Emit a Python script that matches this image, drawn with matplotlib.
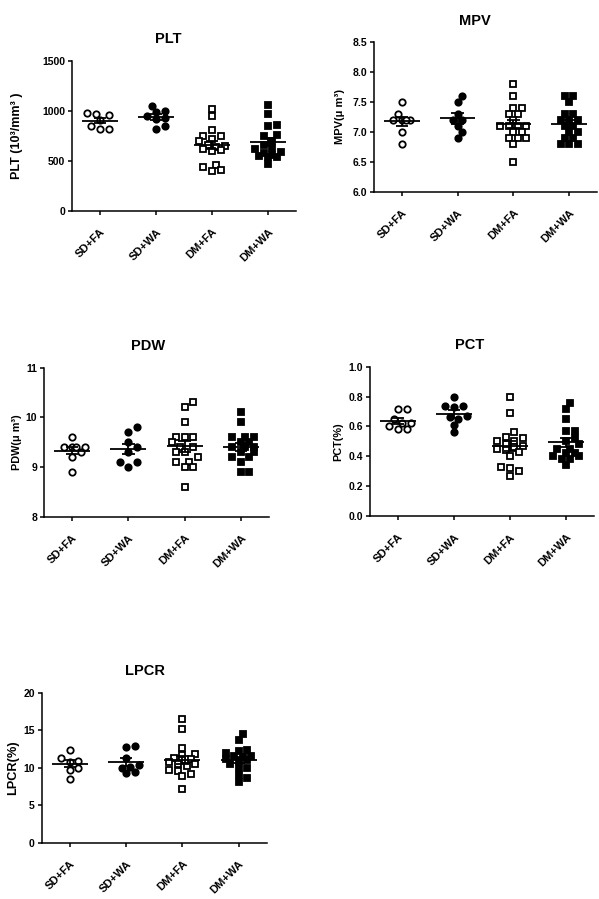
import numpy as np
import matplotlib
matplotlib.use('Agg')
import matplotlib.pyplot as plt

plt.rcParams['font.family'] = ['Liberation Sans', 'DejaVu Sans']
plt.rcParams['font.weight'] = 'bold'

groups = ['SD+FA', 'SD+WA', 'DM+FA', 'DM+WA']

# ---- data ----
plt_sdfa = [965, 955, 975, 905, 850, 820, 820]
plt_sdwa = [1050, 1000, 990, 950, 930, 920, 850, 815]
plt_dmfa = [1015, 945, 810, 750, 745, 720, 700, 660, 650, 640, 620, 610, 600, 440, 455, 400, 405]
plt_dmwa = [1055, 965, 855, 850, 760, 745, 700, 660, 630, 620, 590, 580, 560, 545, 540, 540, 470]

mpv_sdfa = [7.5, 7.3, 7.2, 7.2, 7.2, 7.2, 7.0, 6.8]
mpv_sdwa = [7.6, 7.5, 7.3, 7.2, 7.2, 7.1, 7.0, 6.9]
mpv_dmfa = [7.8, 7.6, 7.4, 7.4, 7.3, 7.3, 7.2, 7.1, 7.1, 7.1, 7.1, 7.0, 7.0, 6.9, 6.9, 6.9, 6.8, 6.5]
mpv_dmwa = [7.6, 7.6, 7.5, 7.3, 7.3, 7.2, 7.2, 7.2, 7.1, 7.1, 7.0, 7.0, 6.9, 6.9, 6.8, 6.8, 6.8]

pdw_sdfa = [9.6, 9.4, 9.4, 9.4, 9.4, 9.3, 9.2, 8.9]
pdw_sdwa = [9.8, 9.7, 9.5, 9.4, 9.3, 9.1, 9.1, 9.0]
pdw_dmfa = [10.3, 10.2, 9.9, 9.6, 9.6, 9.6, 9.5, 9.4, 9.4, 9.3, 9.3, 9.2, 9.1, 9.1, 9.0, 9.0, 8.6]
pdw_dmwa = [10.1, 9.9, 9.6, 9.6, 9.6, 9.5, 9.5, 9.4, 9.4, 9.4, 9.3, 9.3, 9.2, 9.2, 9.1, 8.9, 8.9]

pct_sdfa = [0.72, 0.72, 0.65, 0.62, 0.62, 0.60, 0.58, 0.58]
pct_sdwa = [0.80, 0.74, 0.74, 0.73, 0.67, 0.66, 0.65, 0.61, 0.56]
pct_dmfa = [0.80, 0.69, 0.56, 0.53, 0.52, 0.50, 0.50, 0.48, 0.47, 0.46, 0.45, 0.44, 0.43, 0.40, 0.33, 0.32, 0.30, 0.27]
pct_dmwa = [0.76, 0.72, 0.65, 0.57, 0.57, 0.52, 0.50, 0.48, 0.45, 0.45, 0.42, 0.42, 0.40, 0.40, 0.38, 0.38, 0.34]

lpcr_sdfa = [12.4, 11.3, 10.9, 10.8, 10.0, 9.7, 8.5]
lpcr_sdwa = [12.8, 12.9, 11.3, 10.3, 10.1, 10.0, 9.4, 9.3]
lpcr_dmfa = [16.5, 15.2, 12.6, 11.8, 11.7, 11.3, 11.2, 11.0, 10.8, 10.5, 10.5, 10.2, 9.7, 9.6, 9.2, 8.9, 7.2]
lpcr_dmwa = [14.5, 13.7, 12.4, 12.2, 12.0, 11.6, 11.5, 11.4, 11.1, 11.0, 10.9, 10.5, 10.0, 9.9, 9.0, 8.6, 8.1]

plt_ticks = [0, 500, 1000, 1500]
mpv_ticks = [6.0, 6.5, 7.0, 7.5, 8.0, 8.5]
pdw_ticks = [8, 9, 10, 11]
pct_ticks = [0.0, 0.2, 0.4, 0.6, 0.8, 1.0]
lpcr_ticks = [0, 5, 10, 15, 20]

W, H = 599, 899
fig = plt.figure(figsize=(W / 100, H / 100), dpi=100)

panels = [
    dict(title='PLT', ylabel='PLT (10³/mm³ )', data=[plt_sdfa, plt_sdwa, plt_dmfa, plt_dmwa],
         ticks=plt_ticks, fmt='{:.0f}', box=(72, 60.7, 296, 210.7), tx=0.428, lx=-0.247, lsize=9),
    dict(title='MPV', ylabel='MPV(μ m³)', data=[mpv_sdfa, mpv_sdwa, mpv_dmfa, mpv_dmwa],
         ticks=mpv_ticks, fmt='{:.1f}', box=(374, 42.3, 597, 191.7), tx=0.453, lx=-0.152, lsize=8),
    dict(title='PDW', ylabel='PDW(μ m³)', data=[pdw_sdfa, pdw_sdwa, pdw_dmfa, pdw_dmwa],
         ticks=pdw_ticks, fmt='{:.0f}', box=(44, 367.7, 269, 516.7), tx=0.462, lx=-0.121, lsize=7.8),
    dict(title='PCT', ylabel='PCT(%)', data=[pct_sdfa, pct_sdwa, pct_dmfa, pct_dmwa],
         ticks=pct_ticks, fmt='{:.1f}', box=(370, 366.7, 594, 516), tx=0.446, lx=-0.143, lsize=7.8),
    dict(title='LPCR', ylabel='LPCR(%)', data=[lpcr_sdfa, lpcr_sdwa, lpcr_dmfa, lpcr_dmwa],
         ticks=lpcr_ticks, fmt='{:.0f}', box=(41.7, 692.7, 266.7, 842.7), tx=0.459, lx=-0.126, lsize=9.2),
]

styles = [
    dict(marker='o', fc='white'),
    dict(marker='o', fc='black'),
    dict(marker='s', fc='white'),
    dict(marker='s', fc='black'),
]

XMIN, XMAX = -0.5, 3.5
DIAM = 7.0     # marker size in pixels
STEP = 8.6     # horizontal spacing of neighbouring dots, pixels


def swarm_offsets(vals, ppu_x, ppu_y):
    """Bounded swarm: dots avoid each other up to +-1.5 columns, then overlap (GraphPad-like)."""
    vals = np.asarray(vals, float)
    order = np.argsort(vals)
    cands = [0.0, 0.5, -0.5, 1.0, -1.0, 1.5, -1.5]
    placed = []
    offs = np.zeros(len(vals))
    for idx in order:
        y = vals[idx] * ppu_y
        best, best_d = 0.0, -1.0
        for c in cands:
            x = c * STEP
            d = min([np.hypot(x - px, y - py) for px, py in placed] + [1e9])
            if d >= 0.95 * DIAM:
                best = x
                break
            if d > best_d + 0.5:
                best, best_d = x, d
        placed.append((best, y))
        offs[idx] = best / ppu_x
    return offs


for p in panels:
    l, t, r, b = p['box']
    ax = fig.add_axes([l / W, 1 - b / H, (r - l) / W, (b - t) / H])
    ymin, ymax = p['ticks'][0], p['ticks'][-1]
    ax.set_xlim(XMIN, XMAX)
    ax.set_ylim(ymin, ymax)
    ppu_x = (r - l) / (XMAX - XMIN)
    ppu_y = (b - t) / (ymax - ymin)
    for i, (vals, st) in enumerate(zip(p['data'], styles)):
        v = np.asarray(vals, float)
        offs = swarm_offsets(v, ppu_x, ppu_y)
        ax.plot(i + offs, v, linestyle='none', marker=st['marker'], markersize=4.6,
                markerfacecolor=st['fc'], markeredgecolor='black', markeredgewidth=1.3,
                clip_on=False, zorder=2)
        m = v.mean()
        sem = v.std(ddof=1) / np.sqrt(len(v))
        ax.hlines(m, i - 0.32, i + 0.32, color='black', lw=1.3, zorder=3)
        ax.vlines(i, m - sem, m + sem, color='black', lw=1.3, zorder=3)
        ax.hlines([m - sem, m + sem], i - 0.11, i + 0.11, color='black', lw=1.3, zorder=3)

    ax.set_yticks(p['ticks'])
    ax.set_yticklabels([p['fmt'].format(v) for v in p['ticks']], fontsize=7.5, fontweight='bold')
    ax.set_xticks(range(len(groups)))
    ax.set_xticklabels(groups, rotation=45, ha='right', va='top', rotation_mode='anchor',
                       fontsize=8, fontweight='bold')
    ax.tick_params(axis='y', direction='out', length=3, width=1.1, pad=2)
    ax.tick_params(axis='x', direction='out', length=3, width=1.1, pad=8.5)
    for s in ['top', 'right']:
        ax.spines[s].set_visible(False)
    for s in ['left', 'bottom']:
        ax.spines[s].set_linewidth(1.1)
    ax.set_title(p['title'], x=p['tx'], pad=12.5, fontsize=10.5, fontweight='bold')
    ax.set_ylabel(p['ylabel'], fontsize=p['lsize'], fontweight='bold', va='center')
    ax.yaxis.set_label_coords(p['lx'], 0.5)

fig.savefig('out.png', dpi=100)
